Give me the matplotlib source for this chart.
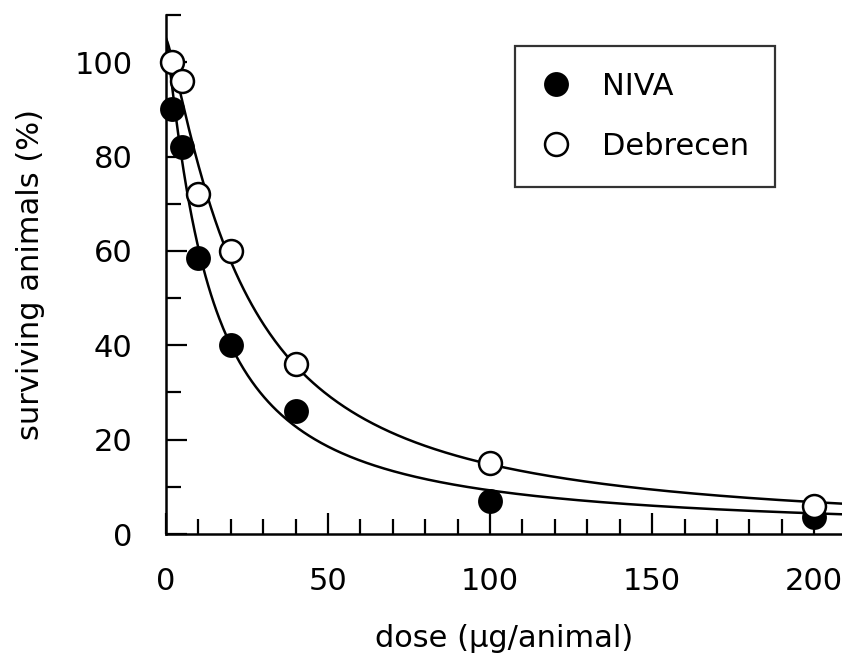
import numpy as np
import matplotlib
matplotlib.use("Agg")
from matplotlib import pyplot as plt

# measured points (dose in ug/animal, % surviving)
dose = [2, 5, 10, 20, 40, 100, 200]
niva = [90, 82, 58.5, 40, 26, 7, 3.5]
debrecen = [100, 96, 72, 60, 36, 15, 6]

# fitted curves y = top / (1 + (x/ed50)^slope), parameters
niva_fit = dict(top=105, ed50=13.1, slope=1.15)
debrecen_fit = dict(top=105, ed50=23.5, slope=1.25)

x_major = [0, 50, 100, 150, 200]
y_major = [0, 20, 40, 60, 80, 100]


def fit_curve(x, top, ed50, slope):
    return top / (1 + (x / ed50) ** slope)


plt.rcParams['font.family'] = ['DejaVu Sans']

fig = plt.figure(figsize=(8.42, 6.58), dpi=100)
ax = fig.add_axes([166 / 842, 1 - 534 / 658, 676 / 842, 519 / 658])

xs = np.linspace(0, 210, 500)
ax.plot(xs, fit_curve(xs, **niva_fit), color='black', lw=1.8, zorder=2)
ax.plot(xs, fit_curve(xs, **debrecen_fit), color='black', lw=1.8, zorder=2)

ax.plot(dose, niva, 'o', ms=16.5, mfc='black', mec='black', mew=1.4,
        label='NIVA', zorder=3, clip_on=False)
ax.plot(dose, debrecen, 'o', ms=16.5, mfc='white', mec='black', mew=1.8,
        label='Debrecen', zorder=3, clip_on=False)

ax.set_xlim(0, 208.6)
ax.set_ylim(0, 110)
ax.set_xticks(x_major)
ax.set_yticks(y_major)
ax.set_xticks(np.arange(0, 210, 10), minor=True)
ax.set_yticks([10, 30, 50, 70, 90, 110], minor=True)

for s in ['top', 'right']:
    ax.spines[s].set_visible(False)
for s in ['left', 'bottom']:
    ax.spines[s].set_linewidth(1.8)

ax.tick_params(which='major', direction='in', length=15, width=1.6,
               labelsize=22, pad=24)
ax.tick_params(which='minor', direction='in', length=10.5, width=1.6)

ax.set_xlabel('dose (µg/animal)', fontsize=22, labelpad=20)
ax.set_ylabel('surviving animals (%)', fontsize=22, labelpad=21)

leg = ax.legend(loc='upper left', bbox_to_anchor=(0.516, 0.94), fontsize=22,
                frameon=True, fancybox=False, edgecolor='black',
                borderaxespad=0, borderpad=0.85, labelspacing=1.0,
                handlelength=1.0, handletextpad=1.0, markerscale=1.0)
leg.get_frame().set_linewidth(1.6)

fig.savefig('out.png', dpi=100)
